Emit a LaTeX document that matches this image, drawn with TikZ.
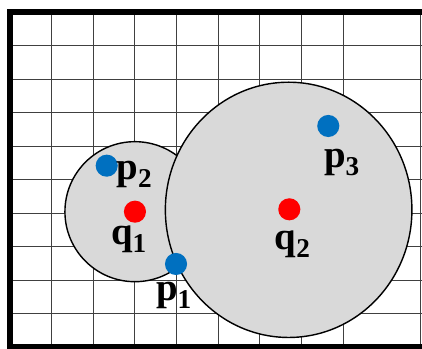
\documentclass[tikz,border=0pt]{standalone}
\usepackage{fontspec}
\setmainfont{Liberation Serif}
\usepackage{tikz}
\usetikzlibrary{positioning}
\definecolor{ptBlue}{HTML}{0070C0}
\definecolor{ptRed}{HTML}{FF0000}
\definecolor{regGray}{HTML}{D9D9D9}
\tikzset{
  gridline/.style={black!75, line width=0.9pt},
  frameline/.style={black, line width=5.2pt},
  region/.style={draw=black, fill=regGray, line width=1.2pt},
  bdot/.style={circle, fill=ptBlue, inner sep=0pt, minimum size=0.66cm},
  rdot/.style={circle, fill=ptRed, inner sep=0pt, minimum size=0.66cm},
  lbl/.style={font=\fontsize{33}{33}\selectfont\bfseries, inner sep=0pt, anchor=base}
}
\begin{document}
\begin{tikzpicture}[x=1.2433cm, y=1cm]
  \useasboundingbox (-0.240,-0.054) rectangle (9.892,10.364);
  \clip (-0.240,-0.054) rectangle (9.892,10.364);
  % grid
  \foreach \x in {1,...,8}{\draw[gridline] (\x,0)--(\x,10);}
  \draw[gridline] (9.856,0)--(9.856,10);
  \foreach \y in {1,...,9}{\draw[gridline] (0,\y)--(10,\y);}
  % the two regions (big one over the small one)
  \draw[region] (3.0,4.045) circle[radius=2.09cm];
  \draw[region] (6.69,4.10) ellipse[x radius=3.68cm, y radius=3.81cm];
  % frame
  \draw[frameline] (10,10)--(0,10)--(0,0)--(10,0);
  % centres and points
  \node[rdot] (q1) at (3.0,4.045) {};
  \node[rdot] (q2) at (6.706,4.116) {};
  \node[bdot] (p1) at (3.986,2.484) {};
  \node[bdot] (p2) at (2.322,5.418) {};
  \node[bdot] (p3) at (7.642,6.603) {};
  % labels
  \node[lbl] (q1l) at (2.857,3.060) {q\textsubscript{1}};
  \node[lbl] (q2l) at (6.787,2.910) {q\textsubscript{2}};
  \node[lbl] (p1l) at (3.938,1.379) {p\textsubscript{1}};
  \node[lbl] (p2l) at (2.989,4.991) {p\textsubscript{2}};
  \node[lbl] (p3l) at (7.971,5.370) {p\textsubscript{3}};
\end{tikzpicture}
\end{document}
